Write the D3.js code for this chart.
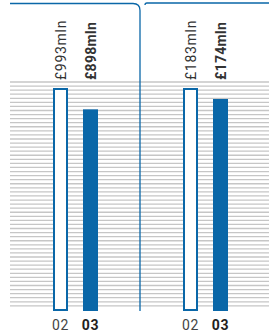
<!DOCTYPE html>
<html>
<head>
<meta charset="utf-8">
<script src="https://cdn.jsdelivr.net/npm/d3@7"></script>
<style>
  body { margin: 0; background: #fff; }
  text { font-family: Roboto, "Liberation Sans", sans-serif; }
</style>
</head>
<body>
<div id="chart"></div>
<script>
var svgWidth = 269;
var svgHeight = 334;

// data
var years = ["02", "03"];
var panels = ["a", "b"];
var panelValues = [[993, 898], [183, 174]];
var valueLabels = [["£993mln", "£898mln"], ["£183mln", "£174mln"]];

var blue = "#0a67a8";

var svg = d3.select("#chart")
  .append("svg")
  .attr("width", svgWidth)
  .attr("height", svgHeight);

// panel positions
var panelScale = d3.scaleBand()
  .domain(panels)
  .range([0, 260]);

var xScale = d3.scalePoint()
  .domain(years)
  .range([60.5, 90.5]);

// gridlines
var gridTop = 82, gridBottom = 306, gridStep = 4.07;
svg.append("g")
  .selectAll("line")
  .data(d3.range(gridTop, gridBottom, gridStep))
  .enter()
  .append("line")
  .attr("x1", 10)
  .attr("x2", 269)
  .attr("y1", d => d)
  .attr("y2", d => d)
  .attr("stroke", "#c6c6c6")
  .attr("stroke-width", 1.3);

// frame lines
var frame = svg.append("g")
  .attr("fill", "none")
  .attr("stroke", blue)
  .attr("stroke-width", 1.3);

frame.append("path")
  .attr("d", "M10,3.5 H133 Q140,3.5 140,10.5 V311");

frame.append("path")
  .attr("d", "M145,5 Q145,3 147,3 H269");

var barW = 15;
var yBottom = 311;

panels.forEach(function(p, i) {
  var vals = panelValues[i];
  var yScale = d3.scaleLinear()
    .domain([0, d3.max(vals)])
    .range([yBottom, 88]);

  var g = svg.append("g")
    .attr("transform", `translate(${panelScale(p)}, 0)`);

  var bars = g.selectAll(".bar")
    .data(vals)
    .enter()
    .append("g");

  bars.append("rect")
    .attr("x", (d, j) => xScale(years[j]) + (j === 0 ? 1 : 0) - barW / 2)
    .attr("y", (d, j) => yScale(d) + (j === 0 ? 1 : 0))
    .attr("width", (d, j) => j === 0 ? barW - 2 : barW)
    .attr("height", (d, j) => yBottom - yScale(d) - (j === 0 ? 2 : 0))
    .attr("fill", (d, j) => j === 0 ? "#fff" : blue)
    .attr("stroke", (d, j) => j === 0 ? blue : "none")
    .attr("stroke-width", 2);

  // value labels, rotated
  g.selectAll(".val")
    .data(valueLabels[i])
    .enter()
    .append("text")
    .attr("transform", (d, j) => `translate(${xScale(years[j]) + 5}, 80) rotate(-90)`)
    .attr("font-size", 14)
    .attr("letter-spacing", (d, j) => j === 1 ? 0.3 : 0.7)
    .attr("font-weight", (d, j) => j === 1 ? "bold" : "normal")
    .attr("fill", "#333")
    .text(d => d);

  // year labels
  g.selectAll(".yr")
    .data(years)
    .enter()
    .append("text")
    .attr("x", d => xScale(d))
    .attr("y", 330)
    .attr("text-anchor", "middle")
    .attr("font-size", 14)
    .attr("letter-spacing", 0.6)
    .attr("font-weight", (d, j) => j === 1 ? "bold" : "normal")
    .attr("fill", (d, j) => j === 1 ? "#222" : "#444")
    .text(d => d);
});
</script>
</body>
</html>
